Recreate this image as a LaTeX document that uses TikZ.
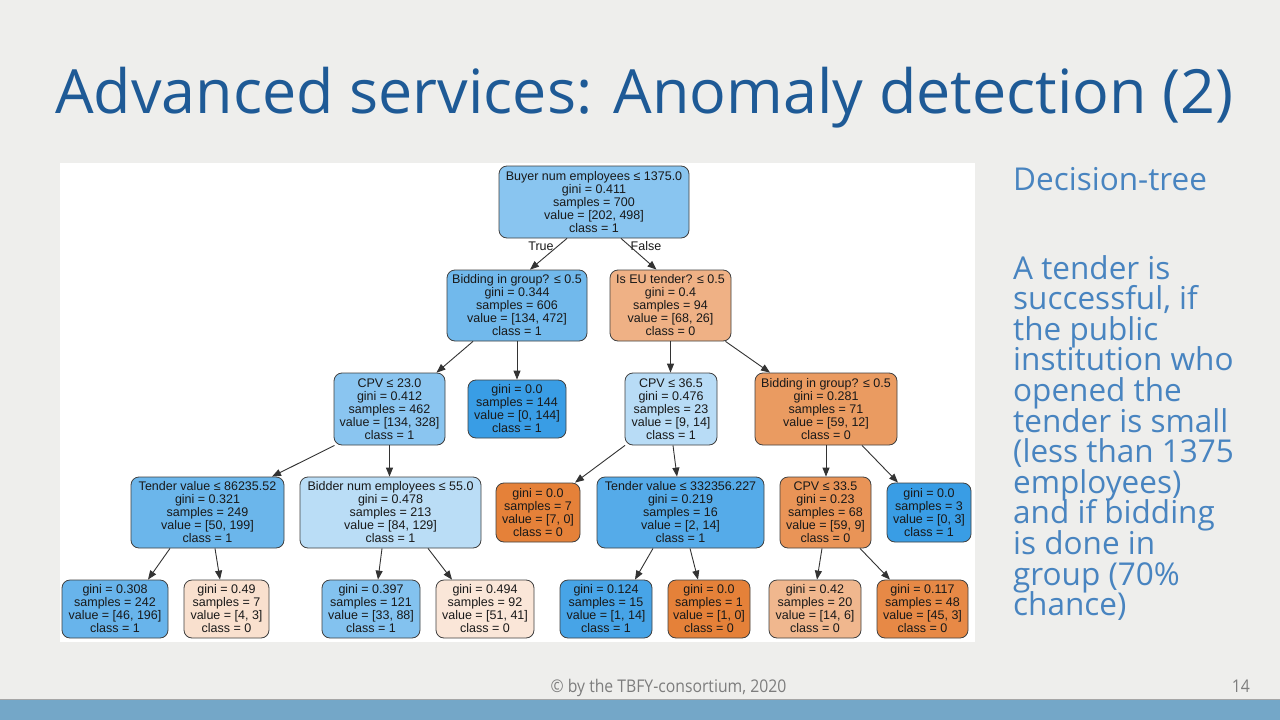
\documentclass[tikz,border=0pt]{standalone}
\usepackage{fontspec}
\setmainfont{Open Sans}
\newfontfamily\treefont{Liberation Sans}
\newfontfamily\footfont[FakeStretch=0.9]{Open Sans}
\usetikzlibrary{arrows.meta}
\newcommand\mytightlines{\lineskiplimit=-30pt\relax\lineskip=0pt\relax}
\definecolor{bg}{RGB}{238,238,236}
\definecolor{titleblue}{RGB}{30,90,150}
\definecolor{sideblue}{RGB}{72,132,192}
\definecolor{barblue}{RGB}{116,167,200}
\definecolor{footgray}{RGB}{125,125,125}
\definecolor{c01}{RGB}{137,197,240}
\definecolor{c02}{RGB}{113,185,236}
\definecolor{c03}{RGB}{239,177,133}
\definecolor{c04}{RGB}{138,197,240}
\definecolor{c05}{RGB}{57,157,229}
\definecolor{c06}{RGB}{184,220,246}
\definecolor{c07}{RGB}{234,155,97}
\definecolor{c08}{RGB}{107,182,235}
\definecolor{c09}{RGB}{186,221,246}
\definecolor{c10}{RGB}{229,129,57}
\definecolor{c11}{RGB}{85,171,233}
\definecolor{c12}{RGB}{233,148,87}
\definecolor{c13}{RGB}{104,180,235}
\definecolor{c14}{RGB}{249,224,206}
\definecolor{c15}{RGB}{131,194,239}
\definecolor{c16}{RGB}{250,230,216}
\definecolor{c17}{RGB}{71,164,231}
\definecolor{c18}{RGB}{240,183,142}
\definecolor{c19}{RGB}{231,137,70}
\tikzset{
  tn/.style n args={3}{draw=black!75, line width=0.8pt, rounded corners=8pt,
    fill=#1, minimum width=#2pt, minimum height=#3pt, inner sep=0pt,
    align=center, font=\treefont\fontsize{12.5}{13}\selectfont, text=black!90},
  edge/.style={draw=black!80, line width=0.9pt, -{Triangle[length=9pt,width=7pt]}},
  tflabel/.style={font=\treefont\fontsize{12.5}{13}\selectfont, text=black!90, inner sep=0pt},
}
\begin{document}
\begin{tikzpicture}[x=1pt,y=-1pt]
\useasboundingbox (0,0) rectangle (1280,720);
\fill[bg] (0,0) rectangle (1280,720);
\fill[white] (60,163) rectangle (975,642);
\fill[barblue] (0,700) rectangle (1280,720);
\draw[black!35, line width=1pt] (0,699.5) -- (1280,699.5);

\node[anchor=base west, inner sep=0pt, text=titleblue, font=\fontsize{61}{70}\selectfont] (title) at (55,113) {Advanced services: Anomaly detection (2)};

\node[anchor=base west, inner sep=0pt, text=sideblue, font=\fontsize{31.5}{30.6}\selectfont] (side1) at (1013,190) {Decision-tree};
\node[anchor=north west, inner sep=0pt, text=sideblue, align=left, font={\fontsize{31.5}{30.6}\selectfont\mytightlines}] (side2) at (1013,255) {A tender is\\successful, if\\the public\\institution who\\opened the\\tender is small\\(less than 1375\\employees)\\and if bidding\\is done in\\group (70\%\\chance)};

\node[anchor=base, inner sep=0pt, text=footgray, font=\footfont\fontsize{17.5}{18}\selectfont] (foot) at (668.5,692) {© by the TBFY-consortium, 2020};
\node[anchor=base east, inner sep=0pt, text=footgray, font=\footfont\fontsize{17.5}{18}\selectfont] (page) at (1250,692) {14};

% tree nodes
\node[tn={c01}{190}{72}] (root) at (594,202) {Buyer num employees ≤ 1375.0\\gini = 0.411\\samples = 700\\value = [202, 498]\\class = 1};
\node[tn={c02}{140}{71}] (L) at (517,305.5) {Bidding in group? ≤ 0.5\\gini = 0.344\\samples = 606\\value = [134, 472]\\class = 1};
\node[tn={c03}{121}{71}] (R) at (670.5,305.5) {Is EU tender? ≤ 0.5\\gini = 0.4\\samples = 94\\value = [68, 26]\\class = 0};
\node[tn={c04}{111}{72}] (C23) at (389.5,409) {CPV ≤ 23.0\\gini = 0.412\\samples = 462\\value = [134, 328]\\class = 1};
\node[tn={c05}{98}{58}] (G144) at (517,409) {gini = 0.0\\samples = 144\\value = [0, 144]\\class = 1};
\node[tn={c06}{92}{72}] (C36) at (671,409) {CPV ≤ 36.5\\gini = 0.476\\samples = 23\\value = [9, 14]\\class = 1};
\node[tn={c07}{142}{72}] (B281) at (826,409) {Bidding in group? ≤ 0.5\\gini = 0.281\\samples = 71\\value = [59, 12]\\class = 0};
\node[tn={c08}{153}{71}] (T86) at (207.5,512.5) {Tender value ≤ 86235.52\\gini = 0.321\\samples = 249\\value = [50, 199]\\class = 1};
\node[tn={c09}{181}{71}] (BN55) at (390.5,512.5) {Bidder num employees ≤ 55.0\\gini = 0.478\\samples = 213\\value = [84, 129]\\class = 1};
\node[tn={c10}{84}{59}] (G7) at (538,512.5) {gini = 0.0\\samples = 7\\value = [7, 0]\\class = 0};
\node[tn={c11}{167}{71}] (T332) at (680.5,512.5) {Tender value ≤ 332356.227\\gini = 0.219\\samples = 16\\value = [2, 14]\\class = 1};
\node[tn={c12}{91}{71}] (C33) at (825.5,512.5) {CPV ≤ 33.5\\gini = 0.23\\samples = 68\\value = [59, 9]\\class = 0};
\node[tn={c05}{84}{59}] (G3) at (929,512.5) {gini = 0.0\\samples = 3\\value = [0, 3]\\class = 1};

\node[tn={c13}{106}{58}] (LA) at (115,609) {gini = 0.308\\samples = 242\\value = [46, 196]\\class = 1};
\node[tn={c14}{85}{58}] (LB) at (226.5,609) {gini = 0.49\\samples = 7\\value = [4, 3]\\class = 0};
\node[tn={c15}{98}{58}] (LC) at (371,609) {gini = 0.397\\samples = 121\\value = [33, 88]\\class = 1};
\node[tn={c16}{98}{58}] (LD) at (485,609) {gini = 0.494\\samples = 92\\value = [51, 41]\\class = 0};
\node[tn={c17}{92}{58}] (LE) at (606,609) {gini = 0.124\\samples = 15\\value = [1, 14]\\class = 1};
\node[tn={c10}{82}{58}] (LF) at (709,609) {gini = 0.0\\samples = 1\\value = [1, 0]\\class = 0};
\node[tn={c18}{92}{58}] (LG) at (815,609) {gini = 0.42\\samples = 20\\value = [14, 6]\\class = 0};
\node[tn={c19}{91}{58}] (LH) at (922.5,609) {gini = 0.117\\samples = 48\\value = [45, 3]\\class = 0};

\node[tflabel] (tlab) at (541,246.5) {True};
\node[tflabel] (flab) at (646,246.5) {False};

% edges
\draw[edge] ([xshift=-27pt]root.south) -- ([xshift=13pt]L.north);
\draw[edge] ([xshift=27pt]root.south) -- ([xshift=-14pt]R.north);
\draw[edge] ([xshift=-44pt]L.south) -- ([xshift=47pt]C23.north);
\draw[edge] (L.south) -- (G144.north);
\draw[edge] (R.south) -- (R.south |- C36.north);
\draw[edge] ([xshift=55pt]R.south) -- ([xshift=-56pt]B281.north);
\draw[edge] ([xshift=-55pt]C23.south) -- ([xshift=64.5pt]T86.north);
\draw[edge] (C23.south) -- (C23.south |- BN55.north);
\draw[edge] ([xshift=-46pt]C36.south) -- ([xshift=37pt]G7.north);
\draw[edge] ([xshift=2pt]C36.south) -- ([xshift=-3.5pt]T332.north);
\draw[edge] (B281.south) -- (B281.south |- C33.north);
\draw[edge] ([xshift=36pt]B281.south) -- ([xshift=-31pt]G3.north);
\draw[edge] ([xshift=-37.5pt]T86.south) -- ([xshift=33pt]LA.north);
\draw[edge] ([xshift=7.5pt]T86.south) -- ([xshift=-6.5pt]LB.north);
\draw[edge] ([xshift=-8.5pt]BN55.south) -- ([xshift=7pt]LC.north);
\draw[edge] ([xshift=37.5pt]BN55.south) -- ([xshift=-33pt]LD.north);
\draw[edge] ([xshift=-27.5pt]T332.south) -- ([xshift=29pt]LE.north);
\draw[edge] ([xshift=9.5pt]T332.south) -- ([xshift=-11pt]LF.north);
\draw[edge] ([xshift=-3.5pt]C33.south) -- ([xshift=2pt]LG.north);
\draw[edge] ([xshift=34.5pt]C33.south) -- ([xshift=-32.5pt]LH.north);
\end{tikzpicture}
\end{document}
